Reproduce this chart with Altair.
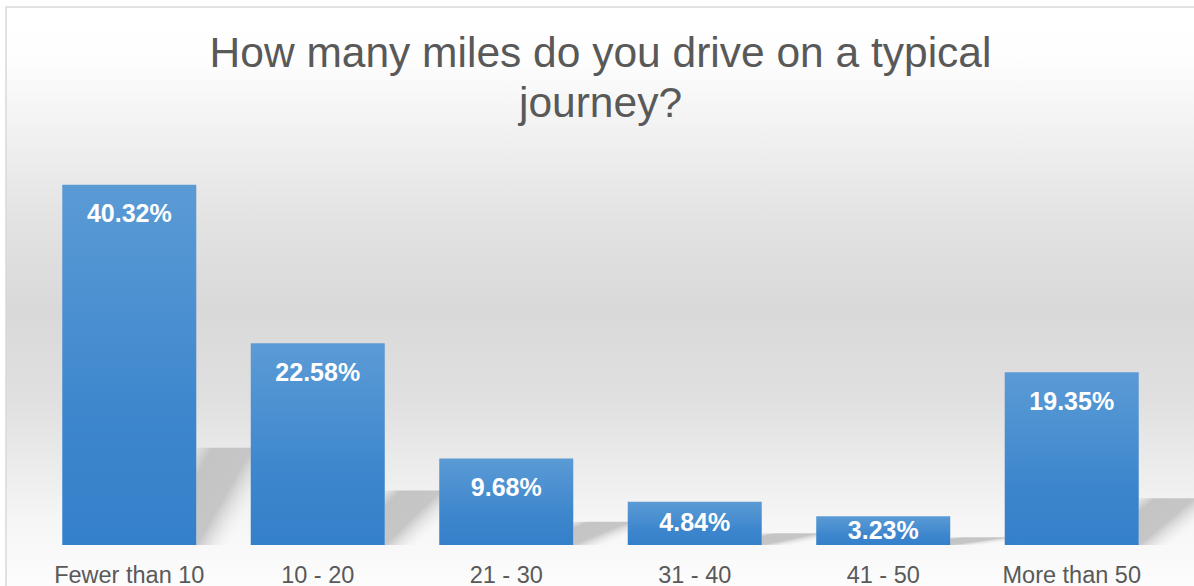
import altair as alt
import pandas as pd

categories = ["Fewer than 10", "10 - 20", "21 - 30", "31 - 40", "41 - 50", "More than 50"]
values = [40.32, 22.58, 9.68, 4.84, 3.23, 19.35]
labels = ["40.32%", "22.58%", "9.68%", "4.84%", "3.23%", "19.35%"]

df = pd.DataFrame({"cat": categories, "val": values, "lab": labels})

W, H = 1131, 402
PAD_L, PAD_T = 35, 143
BG_TOP = 7 - PAD_T  # top of the chart frame, relative to the plot

x_enc = alt.X("cat:N", sort=categories, title=None,
              scale=alt.Scale(paddingInner=0.289, paddingOuter=0.1446),
              axis=alt.Axis(domain=False, ticks=False, tickSize=0, labelAngle=0,
                            labelFont="Liberation Sans", labelFontSize=23.5,
                            labelColor="#595959", labelBaseline="alphabetic",
                            labelPadding=37, grid=False, zindex=1))
y_scale = alt.Scale(domain=[0, 45], nice=False)

bg_grad = alt.Gradient(
    gradient="linear", x1=0, x2=0, y1=0, y2=1,
    stops=[
        alt.GradientStop(offset=0, color="#ffffff"),
        alt.GradientStop(offset=0.08, color="#fefefe"),
        alt.GradientStop(offset=0.2, color="#f2f2f2"),
        alt.GradientStop(offset=0.36, color="#e2e2e2"),
        alt.GradientStop(offset=0.5, color="#d9d9d9"),
        alt.GradientStop(offset=0.65, color="#e0e0e0"),
        alt.GradientStop(offset=0.76, color="#ececec"),
        alt.GradientStop(offset=0.85, color="#f6f6f6"),
        alt.GradientStop(offset=0.95, color="#fcfcfc"),
        alt.GradientStop(offset=1, color="#fdfdfd"),
    ])

background = alt.Chart(pd.DataFrame({"a": [0]})).mark_rect(
    fill=bg_grad, stroke="#d9d9d9", strokeWidth=1.5
).encode(
    x=alt.value(6 - PAD_L), x2=alt.value(1210 - PAD_L),
    y=alt.value(BG_TOP), y2=alt.value(613 - PAD_T)
)

shadow_grad = alt.Gradient(
    gradient="linear", x1=0, x2=1, y1=0, y2=1,
    stops=[
        alt.GradientStop(offset=0, color="rgba(196,196,196,0.2)"),
        alt.GradientStop(offset=0.15, color="rgba(196,196,196,1)"),
        alt.GradientStop(offset=0.5, color="rgba(198,198,198,1)"),
        alt.GradientStop(offset=0.78, color="rgba(235,235,235,0)"),
        alt.GradientStop(offset=1, color="rgba(240,240,240,0)"),
    ])

shadows = alt.Chart(df).transform_calculate(
    sh="datum.val * 0.27"
).mark_bar(width=56, xOffset=95, fill=shadow_grad).encode(
    x=x_enc,
    y=alt.Y("sh:Q", scale=y_scale, axis=None),
    y2=alt.datum(0)
)

bar_grad = alt.Gradient(
    gradient="linear", x1=0, x2=0, y1=0, y2=1,
    stops=[
        alt.GradientStop(offset=0, color="#5b9bd5"),
        alt.GradientStop(offset=0.65, color="#3d86cd"),
        alt.GradientStop(offset=1, color="#3580ca"),
    ])

bars = alt.Chart(df).mark_bar(fill=bar_grad).encode(
    x=x_enc,
    y=alt.Y("val:Q", scale=y_scale, axis=None),
)

text = alt.Chart(df).transform_calculate(
    ly="max(datum.val - 3.3, datum.val / 2)"
).mark_text(
    font="Liberation Sans", fontSize=25, fontWeight="bold", color="white",
    baseline="middle", align="center"
).encode(
    x=x_enc,
    y=alt.Y("ly:Q", scale=y_scale, axis=None),
    text="lab:N"
)

chart = alt.layer(background, shadows, bars, text).properties(
    width=W, height=H,
    autosize=alt.AutoSizeParams(type="none"),
    padding={"left": PAD_L, "top": PAD_T, "right": 1194 - PAD_L - W, "bottom": 586 - PAD_T - H},
    background="white",
    title=alt.TitleParams(
        text=["How many miles do you drive on a typical", "journey?"],
        font="Liberation Sans", fontSize=42.5, fontWeight="normal",
        color="#595959", lineHeight=50, anchor="middle", frame="group",
        offset=BG_TOP + 17, zindex=1
    )
).configure_view(stroke=None)

chart.save("out.html", embed_options={"renderer": "svg", "actions": False})
